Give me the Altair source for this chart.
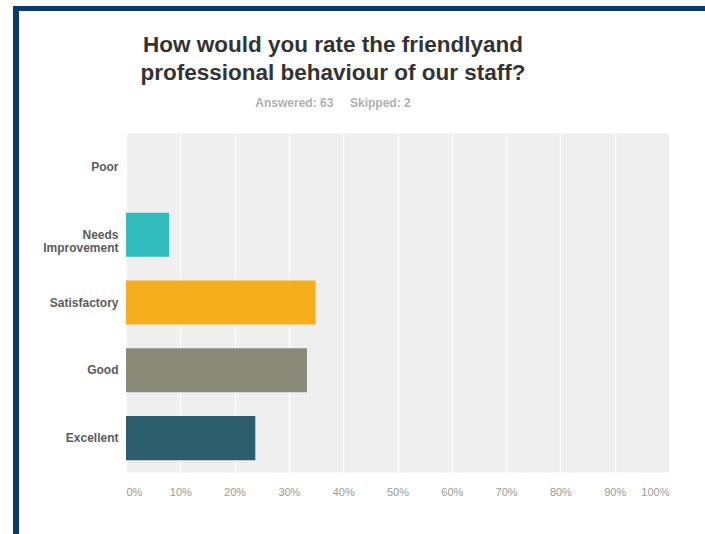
import altair as alt
import pandas as pd

categories = ["Poor", "Needs Improvement", "Satisfactory", "Good", "Excellent"]
percentages = [0.0, 7.94, 34.92, 33.33, 23.81]
bar_colors = ["#d0d0d0", "#33bcbd", "#f6ae1c", "#8a8a78", "#2d5e6d"]
x_ticks = [0, 10, 20, 30, 40, 50, 60, 70, 80, 90, 100]

title_lines = ["How would you rate the friendlyand", "professional behaviour of our staff?"]
subtitle_text = "Answered: 63\u00a0\u00a0\u00a0\u00a0\u00a0Skipped: 2"

df = pd.DataFrame({"category": categories, "pct": percentages})

bars = alt.Chart(df).mark_bar().encode(
    x=alt.X(
        "pct:Q",
        scale=alt.Scale(domain=[0, 100], nice=False),
        axis=alt.Axis(
            values=x_ticks,
            labelExpr="datum.value + '%'",
            title=None,
            domain=False,
            ticks=False,
            grid=True,
            gridColor="#fafafa",
            gridWidth=1.5,
            labelColor="#9a9a9a",
            labelFontSize=11,
            labelFont="Liberation Sans",
            labelPadding=14,
        ),
    ),
    y=alt.Y(
        "category:N",
        sort=categories,
        scale=alt.Scale(paddingInner=0.35, paddingOuter=0.175),
        axis=alt.Axis(
            title=None,
            domain=False,
            ticks=False,
            grid=False,
            labelColor="#5a5a5a",
            labelFontSize=12,
            labelFont="Liberation Sans",
            labelFontWeight="bold",
            labelPadding=8,
            labelLineHeight=13,
            labelExpr="datum.value == 'Needs Improvement' ? ['Needs', 'Improvement'] : datum.value",
        ),
    ),
    color=alt.Color(
        "category:N",
        scale=alt.Scale(domain=categories, range=bar_colors),
        legend=None,
    ),
)

one = pd.DataFrame({"k": [0]})

top_border = alt.Chart(one).mark_rule(color="#0b3a6d", strokeWidth=5).encode(
    x=alt.value(-113), x2=alt.value(600), y=alt.value(-124.5)
)
left_border = alt.Chart(one).mark_rule(color="#0b3a6d", strokeWidth=6).encode(
    x=alt.value(-110), y=alt.value(-127), y2=alt.value(420)
)

title_text = alt.Chart(one).mark_text(
    font="Liberation Sans",
    fontSize=22.5,
    fontWeight="bold",
    color="#333333",
    align="center",
    baseline="alphabetic",
    lineHeight=28,
).encode(
    x=alt.value(207),
    y=alt.value(-81),
    text=alt.value(title_lines),
)

subtitle = alt.Chart(one).mark_text(
    font="Liberation Sans",
    fontSize=12,
    fontWeight="bold",
    color="#b0b0b0",
    align="center",
    baseline="alphabetic",
).encode(
    x=alt.value(207),
    y=alt.value(-26),
    text=alt.value(subtitle_text),
)

chart = alt.layer(bars, top_border, left_border, title_text, subtitle).properties(
    width=543,
    height=339,
    autosize=alt.AutoSizeParams(type="none"),
    padding={"left": 126, "top": 133, "right": 36, "bottom": 62},
    background="white",
).configure_view(fill="#efefef", stroke="transparent")

chart.save("out.html", embed_options={"renderer": "svg", "actions": False})
